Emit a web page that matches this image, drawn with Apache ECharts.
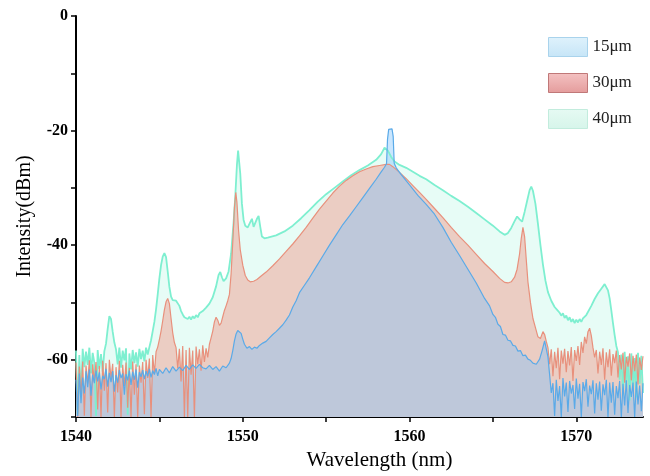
<!DOCTYPE html>
<html>
<head>
<meta charset="utf-8">
<script src="https://cdn.jsdelivr.net/npm/echarts@6/dist/echarts.min.js"></script>
<style>
	html, body { margin: 0; padding: 0; background: #fff; }
	#chart { width: 650px; height: 476px; }
</style>
</head>
<body>
<div id="chart"></div>
<script>
// legend names
const names = ['15μm', '30μm', '40μm'];

// x ticks and labels
const xTicks = [1540, 1545, 1550, 1555, 1560, 1565, 1570];
const xLabels = [1540, 1550, 1560, 1570];
// y ticks and labels
const yTicks = [-70, -60, -50, -40, -30, -20, -10, 0];
const yLabels = [-60, -40, -20, 0];

// 40μm spectrum [wavelength nm, dBm]
const spec40 = [
	[1540.0, -58.4], [1540.1, -69.5], [1540.2, -59.2], [1540.3, -66.8], [1540.4, -58.1], [1540.5, -61.3],
	[1540.6, -58.6], [1540.7, -60.9], [1540.8, -57.9], [1540.9, -62.4], [1541.0, -58.8], [1541.1, -60.5],
	[1541.2, -69.8], [1541.3, -58.3], [1541.4, -61.6], [1541.5, -59.0], [1541.6, -62.1], [1541.7, -58.5],
	[1541.8, -57.2], [1541.9, -54.6], [1542.0, -52.4], [1542.05, -52.2], [1542.1, -52.9], [1542.2, -55.1],
	[1542.3, -57.0], [1542.4, -58.2], [1542.5, -60.8], [1542.6, -57.9], [1542.7, -61.4], [1542.8, -58.4],
	[1542.9, -60.1], [1543.0, -58.0], [1543.1, -69.6], [1543.2, -58.9], [1543.3, -61.7], [1543.4, -58.3],
	[1543.5, -60.6], [1543.6, -58.7], [1543.7, -61.2], [1543.8, -58.1], [1543.9, -59.9], [1544.0, -58.4],
	[1544.1, -60.3], [1544.2, -57.9], [1544.3, -59.1], [1544.4, -57.8], [1544.5, -56.6], [1544.6, -55.0],
	[1544.7, -53.4], [1544.8, -51.2], [1544.9, -48.6], [1545.0, -45.8], [1545.1, -43.5], [1545.2, -42.0],
	[1545.3, -41.4], [1545.4, -42.1], [1545.5, -44.6], [1545.6, -47.3], [1545.7, -49.0], [1545.8, -49.6],
	[1545.9, -49.5], [1546.0, -49.7], [1546.1, -49.8], [1546.2, -50.6], [1546.3, -51.5], [1546.4, -52.1],
	[1546.5, -52.6], [1546.6, -52.3], [1546.7, -52.9], [1546.8, -52.5], [1546.9, -53.0], [1547.0, -52.4],
	[1547.1, -52.8], [1547.2, -52.2], [1547.3, -52.6], [1547.4, -51.9], [1547.5, -52.2], [1547.6, -51.5],
	[1547.7, -51.7], [1547.8, -50.9], [1547.9, -51.0], [1548.0, -50.2], [1548.1, -49.9], [1548.2, -49.1],
	[1548.4, -47.2], [1548.55, -45.2], [1548.65, -44.7], [1548.75, -45.6], [1548.85, -46.3], [1549.0, -45.8],
	[1549.15, -44.6], [1549.3, -41.5], [1549.45, -36.0], [1549.55, -31.5], [1549.65, -26.0], [1549.72, -23.5],
	[1549.78, -23.6], [1549.85, -27.5], [1549.95, -32.8], [1550.05, -35.6], [1550.15, -36.6], [1550.3, -36.9],
	[1550.45, -36.0], [1550.55, -35.4], [1550.65, -36.8], [1550.75, -36.7], [1550.85, -35.4], [1550.95, -34.9],
	[1551.05, -36.8], [1551.15, -38.5], [1551.3, -38.8], [1551.5, -38.7], [1552.0, -38.3], [1552.5, -37.6],
	[1553.0, -36.6], [1553.5, -35.3], [1554.0, -33.9], [1554.5, -32.4], [1555.0, -31.1], [1555.5, -30.0],
	[1556.0, -28.9], [1556.5, -27.8], [1557.0, -26.9], [1557.5, -26.1], [1558.0, -25.1], [1558.3, -24.1],
	[1558.5, -23.0], [1558.7, -23.5], [1558.9, -24.6], [1559.1, -25.4], [1559.4, -26.0], [1559.8, -26.5],
	[1560.2, -27.2], [1560.6, -27.9], [1561.0, -28.5], [1561.5, -29.5], [1562.0, -30.4], [1562.5, -31.4],
	[1563.0, -32.3], [1563.5, -33.3], [1564.0, -34.4], [1564.5, -35.5], [1565.0, -36.6], [1565.4, -37.6],
	[1565.7, -38.2], [1565.9, -37.9], [1566.1, -37.0], [1566.3, -35.8], [1566.45, -35.0], [1566.6, -35.5],
	[1566.75, -35.9], [1566.9, -34.2], [1567.05, -32.3], [1567.2, -30.4], [1567.3, -29.8], [1567.4, -30.5],
	[1567.55, -32.8], [1567.7, -36.3], [1567.85, -40.0], [1568.0, -43.4], [1568.15, -46.2], [1568.3, -48.2],
	[1568.5, -49.7], [1568.7, -50.8], [1568.85, -51.3], [1569.0, -51.8], [1569.1, -52.3], [1569.2, -51.9],
	[1569.3, -52.7], [1569.4, -52.3], [1569.5, -53.1], [1569.6, -52.6], [1569.7, -53.4], [1569.8, -52.9],
	[1569.9, -53.6], [1570.0, -53.0], [1570.1, -53.5], [1570.2, -52.9], [1570.3, -53.4], [1570.4, -52.8],
	[1570.5, -52.9], [1570.6, -52.2], [1570.7, -52.0], [1570.9, -50.6], [1571.1, -49.4], [1571.3, -48.4],
	[1571.5, -47.6], [1571.7, -46.8], [1571.8, -47.0], [1571.9, -47.9], [1572.0, -49.3], [1572.1, -51.4],
	[1572.2, -53.6], [1572.3, -55.7], [1572.4, -57.6], [1572.5, -58.7], [1572.6, -63.5], [1572.7, -59.1],
	[1572.8, -66.2], [1572.9, -58.6], [1573.0, -64.8], [1573.1, -59.4], [1573.2, -67.1], [1573.3, -58.9],
	[1573.4, -65.3], [1573.5, -59.7], [1573.6, -66.6], [1573.7, -58.8], [1573.8, -64.2], [1573.9, -59.3],
	[1574.0, -65.8]
];

// 30μm spectrum
const spec30 = [
	[1540.0, -60.5], [1540.1, -70.0], [1540.2, -61.2], [1540.3, -66.5], [1540.4, -60.3], [1540.5, -69.8],
	[1540.6, -61.0], [1540.7, -64.2], [1540.8, -60.1], [1540.9, -70.0], [1541.0, -60.8], [1541.1, -63.9],
	[1541.2, -60.4], [1541.3, -68.7], [1541.4, -61.1], [1541.5, -70.0], [1541.6, -60.2], [1541.7, -65.4],
	[1541.8, -60.6], [1541.9, -69.2], [1542.0, -60.0], [1542.1, -63.3], [1542.2, -60.7], [1542.3, -70.0],
	[1542.4, -61.3], [1542.5, -65.7], [1542.6, -60.2], [1542.7, -70.0], [1542.8, -60.9], [1542.9, -64.6],
	[1543.0, -60.5], [1543.1, -68.4], [1543.2, -61.4], [1543.3, -70.0], [1543.4, -60.3], [1543.5, -66.1],
	[1543.6, -60.8], [1543.7, -70.0], [1543.8, -61.0], [1543.9, -64.0], [1544.0, -60.4], [1544.1, -69.5],
	[1544.2, -60.0], [1544.3, -63.2], [1544.4, -59.8], [1544.5, -70.0], [1544.6, -59.2], [1544.7, -62.5],
	[1544.8, -58.6], [1544.9, -57.8], [1545.0, -56.5], [1545.1, -55.0], [1545.2, -53.2], [1545.3, -51.3],
	[1545.4, -49.9], [1545.5, -49.3], [1545.6, -50.2], [1545.7, -52.8], [1545.8, -55.3], [1545.9, -57.0],
	[1546.0, -57.9], [1546.1, -61.5], [1546.2, -58.1], [1546.3, -63.8], [1546.4, -57.6], [1546.5, -70.0],
	[1546.6, -58.3], [1546.7, -70.0], [1546.8, -57.9], [1546.9, -62.6], [1547.0, -58.4], [1547.1, -70.0],
	[1547.2, -57.7], [1547.3, -60.8], [1547.4, -58.2], [1547.5, -61.9], [1547.6, -57.5], [1547.7, -60.4],
	[1547.8, -58.0], [1547.9, -59.6], [1548.0, -57.3], [1548.1, -56.2], [1548.2, -55.0], [1548.3, -53.4],
	[1548.4, -52.6], [1548.5, -53.1], [1548.6, -54.0], [1548.7, -53.6], [1548.8, -52.5], [1548.9, -51.4],
	[1549.0, -50.6], [1549.1, -49.7], [1549.2, -48.6], [1549.3, -45.0], [1549.4, -39.5], [1549.5, -33.5],
	[1549.58, -30.8], [1549.65, -32.5], [1549.75, -37.5], [1549.85, -40.8], [1550.0, -43.5], [1550.15, -45.3],
	[1550.3, -46.1], [1550.45, -46.4], [1550.65, -46.3], [1550.85, -46.0], [1551.1, -45.4], [1551.4, -44.7],
	[1551.8, -43.6], [1552.2, -42.4], [1552.6, -41.1], [1553.0, -39.8], [1553.4, -38.4], [1553.8, -36.9],
	[1554.2, -35.3], [1554.6, -33.7], [1555.0, -32.3], [1555.4, -30.9], [1555.8, -29.7], [1556.2, -28.7],
	[1556.6, -27.9], [1557.0, -27.2], [1557.4, -26.7], [1557.8, -26.3], [1558.2, -26.1], [1558.6, -25.9],
	[1558.8, -25.9], [1559.0, -26.3], [1559.4, -27.3], [1559.8, -28.4], [1560.2, -29.6], [1560.6, -30.8],
	[1561.0, -32.0], [1561.5, -33.6], [1562.0, -35.2], [1562.5, -36.9], [1563.0, -38.5], [1563.5, -40.0],
	[1564.0, -41.6], [1564.5, -43.2], [1565.0, -44.6], [1565.4, -45.8], [1565.7, -46.5], [1565.9, -46.6],
	[1566.1, -46.4], [1566.3, -45.6], [1566.45, -44.2], [1566.6, -41.5], [1566.7, -38.8], [1566.8, -36.9],
	[1566.9, -38.5], [1567.0, -42.5], [1567.1, -46.4], [1567.25, -50.0], [1567.4, -52.8], [1567.55, -54.4],
	[1567.7, -56.0], [1567.85, -56.3], [1568.0, -55.1], [1568.1, -55.6], [1568.2, -56.8], [1568.3, -57.9],
	[1568.4, -60.8], [1568.5, -58.2], [1568.6, -62.9], [1568.7, -58.6], [1568.8, -61.5], [1568.9, -57.9],
	[1569.0, -63.4], [1569.1, -58.4], [1569.2, -60.7], [1569.3, -58.1], [1569.4, -62.2], [1569.5, -58.5],
	[1569.6, -61.0], [1569.7, -57.8], [1569.8, -63.7], [1569.9, -58.3], [1570.0, -60.2], [1570.1, -57.6],
	[1570.2, -60.9], [1570.3, -56.9], [1570.4, -58.8], [1570.5, -56.0], [1570.6, -57.2], [1570.7, -55.1],
	[1570.8, -54.5], [1570.9, -55.8], [1571.0, -57.9], [1571.1, -59.6], [1571.2, -58.3], [1571.3, -62.4],
	[1571.4, -58.6], [1571.5, -60.9], [1571.6, -58.0], [1571.7, -63.5], [1571.8, -58.7], [1571.9, -61.3],
	[1572.0, -58.2], [1572.1, -62.8], [1572.2, -59.0], [1572.3, -60.6], [1572.4, -58.4], [1572.5, -63.1],
	[1572.6, -59.2], [1572.7, -61.7], [1572.8, -58.8], [1572.9, -64.0], [1573.0, -59.5], [1573.1, -61.2],
	[1573.2, -58.9], [1573.3, -63.6], [1573.4, -59.3], [1573.5, -62.0], [1573.6, -59.1], [1573.7, -64.3],
	[1573.8, -59.6], [1573.9, -61.8], [1574.0, -59.4]
];

// 15μm spectrum
const spec15 = [
	[1540.0, -63.5], [1540.1, -69.8], [1540.2, -62.4], [1540.3, -67.6], [1540.4, -63.1], [1540.5, -65.9],
	[1540.6, -62.0], [1540.7, -64.8], [1540.8, -61.7], [1540.9, -66.3], [1541.0, -62.6], [1541.1, -64.1],
	[1541.2, -61.9], [1541.3, -63.8], [1541.4, -62.2], [1541.5, -65.2], [1541.6, -62.8], [1541.7, -63.4],
	[1541.8, -61.6], [1541.9, -64.7], [1542.0, -62.3], [1542.1, -63.9], [1542.2, -62.0], [1542.3, -65.6],
	[1542.4, -62.7], [1542.5, -64.0], [1542.6, -61.8], [1542.7, -63.2], [1542.8, -62.4], [1542.9, -66.1],
	[1543.0, -62.5], [1543.1, -63.6], [1543.2, -61.9], [1543.3, -64.4], [1543.4, -62.1], [1543.5, -63.5],
	[1543.6, -61.7], [1543.7, -64.9], [1543.8, -62.2], [1543.9, -63.0], [1544.0, -61.8], [1544.1, -63.4],
	[1544.2, -62.0], [1544.3, -62.9], [1544.4, -61.6], [1544.5, -63.1], [1544.6, -61.9], [1544.7, -62.6],
	[1544.8, -61.5], [1544.9, -62.8], [1545.0, -61.7], [1545.2, -62.4], [1545.4, -61.4], [1545.6, -62.3],
	[1545.8, -61.2], [1546.0, -62.0], [1546.2, -61.3], [1546.4, -61.9], [1546.6, -61.0], [1546.8, -61.7],
	[1547.0, -60.9], [1547.2, -61.5], [1547.4, -60.8], [1547.6, -61.4], [1547.8, -61.6], [1548.0, -61.0],
	[1548.2, -61.7], [1548.4, -61.2], [1548.6, -62.0], [1548.8, -61.1], [1549.0, -61.4], [1549.2, -60.6],
	[1549.3, -59.8], [1549.4, -58.4], [1549.5, -56.7], [1549.6, -55.5], [1549.7, -54.9], [1549.8, -54.8],
	[1549.9, -55.4], [1550.0, -56.4], [1550.1, -57.3], [1550.25, -58.0], [1550.4, -57.7], [1550.55, -58.2],
	[1550.7, -57.8], [1550.85, -58.0], [1551.0, -57.5], [1551.2, -57.1], [1551.4, -56.8], [1551.6, -56.2],
	[1551.8, -55.6], [1552.0, -55.1], [1552.2, -54.5], [1552.4, -53.9], [1552.6, -53.1], [1552.8, -52.2],
	[1553.0, -50.8], [1553.2, -49.7], [1553.4, -48.3], [1553.7, -47.0], [1554.0, -45.7], [1554.4, -43.8],
	[1554.8, -41.9], [1555.2, -40.0], [1555.6, -38.2], [1556.0, -36.4], [1556.4, -34.9], [1556.8, -33.3],
	[1557.2, -31.7], [1557.6, -30.1], [1558.0, -28.5], [1558.3, -27.2], [1558.5, -26.4], [1558.62, -25.8],
	[1558.68, -21.5], [1558.75, -19.8], [1558.85, -19.5], [1558.95, -19.7], [1559.02, -21.0], [1559.08, -25.7],
	[1559.2, -26.5], [1559.5, -27.7], [1560.0, -29.5], [1560.5, -31.3], [1561.0, -32.9], [1561.5, -34.6],
	[1562.0, -36.9], [1562.5, -39.5], [1563.0, -41.8], [1563.5, -44.2], [1564.0, -46.6], [1564.5, -49.3],
	[1564.8, -50.6], [1565.0, -52.1], [1565.15, -52.6], [1565.3, -53.8], [1565.45, -54.2], [1565.6, -55.6],
	[1565.75, -55.7], [1565.9, -56.6], [1566.05, -56.7], [1566.2, -57.5], [1566.35, -57.6], [1566.5, -58.5],
	[1566.65, -58.4], [1566.8, -59.3], [1566.95, -59.2], [1567.1, -59.9], [1567.25, -60.1], [1567.4, -60.6],
	[1567.6, -60.8], [1567.8, -59.9], [1567.95, -58.4], [1568.1, -56.7], [1568.2, -57.0], [1568.3, -59.5],
	[1568.4, -62.6], [1568.5, -65.8], [1568.6, -64.1], [1568.7, -69.8], [1568.8, -63.5], [1568.9, -67.2],
	[1569.0, -64.6], [1569.1, -70.0], [1569.2, -63.2], [1569.3, -66.4], [1569.4, -64.0], [1569.5, -69.1],
	[1569.6, -63.7], [1569.7, -65.9], [1569.8, -64.4], [1569.9, -68.6], [1570.0, -63.3], [1570.1, -66.8],
	[1570.2, -64.2], [1570.3, -70.0], [1570.4, -63.9], [1570.5, -65.5], [1570.6, -63.4], [1570.7, -68.2],
	[1570.8, -64.5], [1570.9, -66.0], [1571.0, -63.6], [1571.1, -69.4], [1571.2, -64.1], [1571.3, -67.0],
	[1571.4, -63.8], [1571.5, -68.9], [1571.6, -64.3], [1571.7, -66.2], [1571.8, -63.5], [1571.9, -70.0],
	[1572.0, -64.0], [1572.1, -67.5], [1572.2, -63.9], [1572.3, -69.6], [1572.4, -64.6], [1572.5, -66.7],
	[1572.6, -63.7], [1572.7, -70.0], [1572.8, -64.2], [1572.9, -68.0], [1573.0, -63.6], [1573.1, -69.3],
	[1573.2, -64.4], [1573.3, -66.5], [1573.4, -64.0], [1573.5, -70.0], [1573.6, -63.8], [1573.7, -67.8],
	[1573.8, -64.5], [1573.9, -69.0], [1574.0, -64.1]
];

const serif = "'Liberation Serif', 'DejaVu Serif', serif";

function grad(top, bottom) {
	return {
		type: 'linear', x: 0, y: 0, x2: 0, y2: 1,
		colorStops: [{ offset: 0, color: top }, { offset: 1, color: bottom }]
	};
}

function areaSeries(name, data, line, lineWidth, fill) {
	return {
		name: name,
		type: 'line',
		data: data,
		showSymbol: false,
		symbol: 'none',
		lineStyle: { color: line, width: lineWidth },
		itemStyle: { color: line },
		areaStyle: { color: fill, opacity: 1, origin: 'start' },
		emphasis: { disabled: true },
		animation: false
	};
}

let chartDom = document.getElementById('chart');
let chart = echarts.init(chartDom);

let option = {
	backgroundColor: '#fff',
	animation: false,
	grid: { left: 76, right: 7, top: 16, bottom: 58 },
	legend: {
		orient: 'vertical',
		left: 543,
		top: 32,
		icon: 'rect',
		itemWidth: 39,
		itemHeight: 19,
		itemGap: 16,
		textStyle: { fontFamily: serif, fontSize: 17, color: '#222' },
		data: [
			{ name: names[0], itemStyle: { color: grad('#dff2fc', '#c6e5f7'), borderColor: '#a9d3ec', borderWidth: 1 } },
			{ name: names[1], itemStyle: { color: grad('#f4c2c2', '#e49c9c'), borderColor: '#c07878', borderWidth: 1 } },
			{ name: names[2], itemStyle: { color: grad('#e6faf3', '#d6f5ea'), borderColor: '#c2ecdd', borderWidth: 1 } }
		]
	},
	xAxis: {
		type: 'value',
		min: 1540,
		max: 1574,
		interval: 5,
		name: 'Wavelength (nm)',
		nameLocation: 'middle',
		nameGap: 33,
		nameTextStyle: { fontFamily: serif, fontSize: 21, color: '#000', padding: [0, 0, 0, 40] },
		axisLine: { show: true, onZero: false, lineStyle: { color: '#000', width: 2 } },
		axisTick: { show: true, length: 5, customValues: xTicks, lineStyle: { color: '#000', width: 1.5 } },
		axisLabel: {
			margin: 12,
			customValues: xLabels,
			fontFamily: serif,
			fontSize: 16,
			fontWeight: 'bold',
			color: '#000',
			formatter: function (v) { return xLabels.indexOf(v) >= 0 ? String(v) : ''; }
		},
		splitLine: { show: false }
	},
	yAxis: {
		type: 'value',
		min: -70,
		max: 0,
		interval: 10,
		name: 'Intensity(dBm)',
		nameLocation: 'middle',
		nameGap: 41,
		nameTextStyle: { fontFamily: serif, fontSize: 20, color: '#000' },
		axisLine: { show: true, onZero: false, lineStyle: { color: '#000', width: 2 } },
		axisTick: { show: true, length: 5, customValues: yTicks, lineStyle: { color: '#000', width: 1.5 } },
		axisLabel: {
			margin: 8,
			customValues: yLabels,
			fontFamily: serif,
			fontSize: 16,
			fontWeight: 'bold',
			color: '#000',
			formatter: function (v) { return yLabels.indexOf(v) >= 0 ? String(v) : ''; }
		},
		splitLine: { show: false }
	},
	series: [
		areaSeries(names[2], spec40, '#7eefd0', 1.8, '#e7fcf6'),
		areaSeries(names[1], spec30, '#e8907c', 1.2, 'rgba(240, 140, 125, 0.42)'),
		areaSeries(names[0], spec15, '#5aaae8', 1.2, 'rgba(122, 192, 252, 0.4)')
	]
};

chart.setOption(option);
</script>
</body>
</html>
